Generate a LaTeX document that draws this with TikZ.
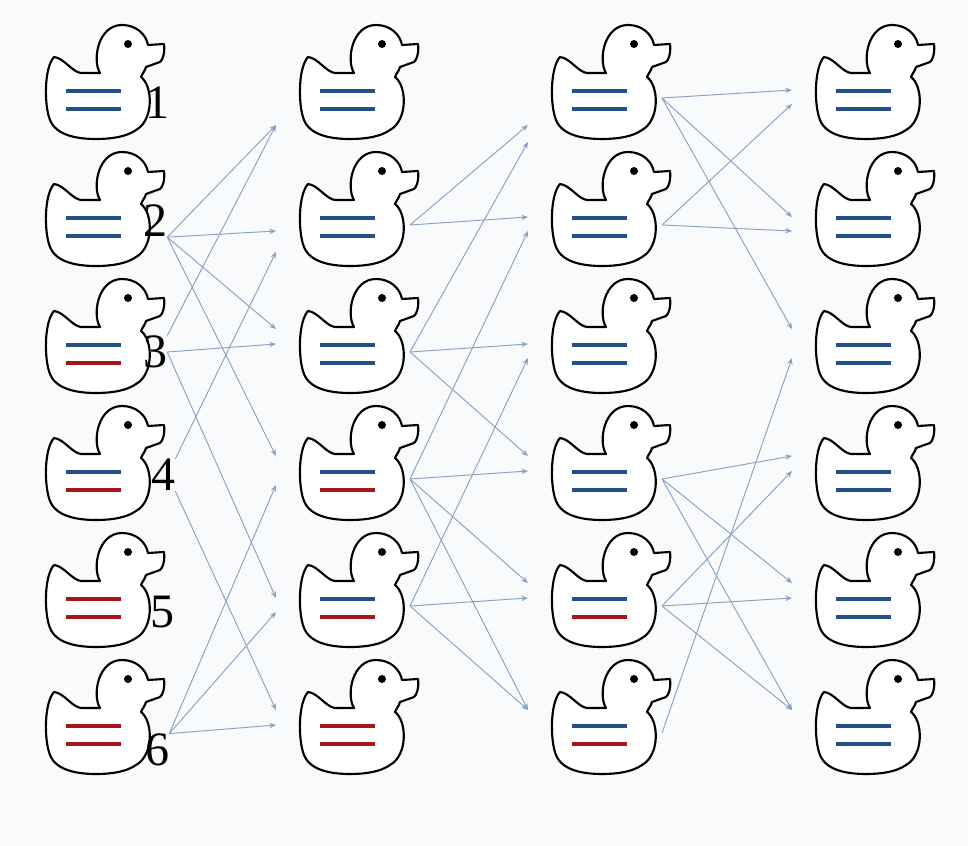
\documentclass[tikz,border=0pt]{standalone}
\usepackage{xcolor}
\usepackage{fontspec}
\setmainfont{Liberation Serif}
\usepackage{tikz}
\usetikzlibrary{arrows.meta}

\definecolor{bl}{RGB}{35,80,135}
\definecolor{rd}{RGB}{165,22,28}
\definecolor{linkblue}{RGB}{135,162,195}
\definecolor{paper}{RGB}{249,250,251}

\tikzset{
  duck line/.style={line width=1.6pt, line join=round, fill=white},
  stripe/.style={line width=3.6pt},
  link/.style={draw=linkblue, line width=0.7pt, -{Stealth[length=5pt,width=4pt]}},
  num/.style={inner sep=0pt, font=\fontsize{36}{36}\selectfont},
  pics/duck/.style 2 args={code={
    %Duck outline
    \draw[duck line] (18,37) .. controls (28,38) and (36,52) .. (45,53) -- (64,53)
      .. controls (56,40) and (62,5) .. (86,5)
      .. controls (100,5) and (110,14) .. (112,25)
      -- (128,24) .. controls (129,32) and (127,40) .. (124,42) -- (110,47)
      .. controls (109,51) and (106,54) .. (105,57)
      .. controls (117,66) and (118,100) .. (100,110)
      .. controls (90,117) and (75,119) .. (60,119)
      .. controls (40,119) and (20,115) .. (14,100)
      .. controls (8,85) and (8,48) .. (18,37) -- cycle ;
    %Eye
    \fill (92,24) circle (3pt) ;
    %Stripes
    \draw[stripe,#1] (30,71) -- (85,71) ;
    \draw[stripe,#2] (30,89) -- (85,89) ;
    %Ports
    \coordinate (-a) at (-14,55) ;
    \coordinate (-b) at (-14,70) ;
    \coordinate (-c) at (-14,84) ;
    \coordinate (-d) at (-14,105) ;
    \coordinate (-e) at (-14,122) ;
    \coordinate (-o) at (120,78) ;
  }},
}

\begin{document}
\begin{tikzpicture}[x=0.75pt,y=0.75pt,yscale=-1,xscale=1]
\fill[paper] (0,0) rectangle (968,846) ;
\useasboundingbox (0,0) rectangle (968,846) ;

% Ducks
\foreach \c/\x/\list in {1/36/{bl/bl,bl/bl,bl/rd,bl/rd,rd/rd,rd/rd},
                         2/290/{bl/bl,bl/bl,bl/bl,bl/rd,bl/rd,rd/rd},
                         3/542/{bl/bl,bl/bl,bl/bl,bl/bl,bl/rd,bl/rd},
                         4/806/{bl/bl,bl/bl,bl/bl,bl/bl,bl/bl,bl/bl}} {
  \foreach \t/\u [count=\r] in \list {
    \pic[transform shape] (d\c\r) at (\x,{20+127*(\r-1)}) {duck={\t}{\u}} ;
  }
}

% Text Node
\foreach \r/\lx/\ly in {1/157/103,2/155/221,3/155/352,4/163/475,5/162/612,6/157/750}
  \node[num] (l\r) at (\lx,\ly) {\r} ;

% Arrows
\foreach \s/\t in {l2.south east/d21-d, l3.north east/d21-d, l2.south east/d22-c, l4.north east/d22-d,
                   l2.south east/d23-a, l3.east/d23-b, l2.south east/d24-a, l6.north east/d24-c,
                   l3.east/d25-b, l6.north east/d25-c, l4.south east/d26-a, l6.north east/d26-b,
                   d22-o/d31-d, d23-o/d31-e, d22-o/d32-b, d24-o/d32-c,
                   d23-o/d33-b, d25-o/d33-c, d23-o/d34-a, d24-o/d34-b,
                   d24-o/d35-a, d25-o/d35-b, d24-o/d36-a, d25-o/d36-a,
                   d31-o/d41-b, d32-o/d41-c, d31-o/d42-b, d32-o/d42-c,
                   d31-o/d43-a, d36-o/d43-c, d34-o/d44-a, d35-o/d44-b,
                   d34-o/d45-a, d35-o/d45-b, d34-o/d46-a, d35-o/d46-a}
  \draw[link] (\s) -- (\t) ;

\end{tikzpicture}
\end{document}
